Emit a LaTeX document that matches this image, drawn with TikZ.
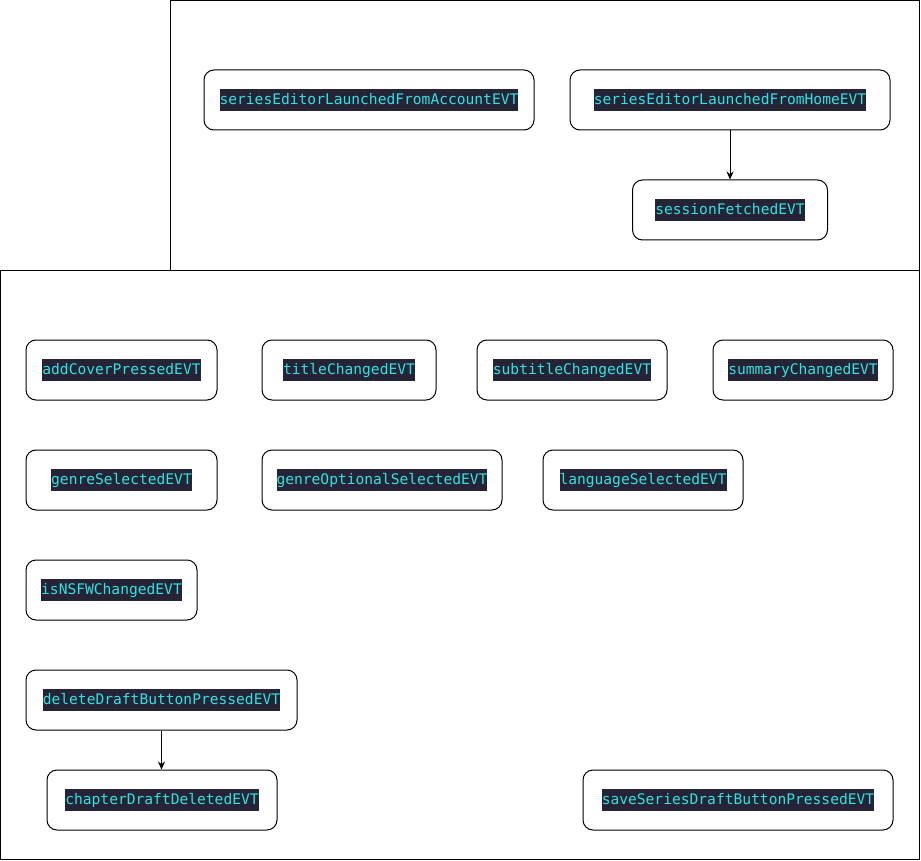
\documentclass[tikz,border=0pt]{standalone}
\usepackage{fontspec}
\setmonofont{DejaVu Sans Mono}
\usetikzlibrary{arrows.meta}
\definecolor{codebg}{RGB}{36,36,54}
\definecolor{codefg}{RGB}{48,226,226}
\newcommand{\evtlabel}[1]{{\setlength{\fboxsep}{0pt}\colorbox{codebg}{\rule[-6.5pt]{0pt}{22pt}\textcolor{codefg}{#1}}}}
\tikzset{
  evt/.style={draw, rounded corners=10pt, minimum height=60pt, inner sep=0pt,
    font=\ttfamily\fontsize{14.6}{17}\selectfont},
  group/.style={draw, line width=1pt}
}
\begin{document}
\begin{tikzpicture}[x=1pt, y=-1pt, line width=1pt]
\useasboundingbox (0,0) rectangle (921,861);
\draw[group] (170.5, 0.5) rectangle (919.5, 270);
\draw[group] (0.5, 270) rectangle (919.5, 859.5);
\node[evt, minimum width=330pt] (acct) at (369, 100) {\evtlabel{seriesEditorLaunchedFromAccountEVT}};
\node[evt, minimum width=320pt] (home) at (730, 100) {\evtlabel{seriesEditorLaunchedFromHomeEVT}};
\node[evt, minimum width=195pt] (session) at (730, 210) {\evtlabel{sessionFetchedEVT}};
\node[evt, minimum width=191pt] (cover) at (121.5, 370) {\evtlabel{addCoverPressedEVT}};
\node[evt, minimum width=174pt] (title) at (349, 370) {\evtlabel{titleChangedEVT}};
\node[evt, minimum width=190pt] (subtitle) at (572, 370) {\evtlabel{subtitleChangedEVT}};
\node[evt, minimum width=180pt] (summary) at (803, 370) {\evtlabel{summaryChangedEVT}};
\node[evt, minimum width=191pt] (genre) at (121.5, 480) {\evtlabel{genreSelectedEVT}};
\node[evt, minimum width=240pt] (genreopt) at (382, 480) {\evtlabel{genreOptionalSelectedEVT}};
\node[evt, minimum width=200pt] (language) at (643, 480) {\evtlabel{languageSelectedEVT}};
\node[evt, minimum width=171pt] (nsfw) at (111.5, 590) {\evtlabel{isNSFWChangedEVT}};
\node[evt, minimum width=271pt] (deldraft) at (161.5, 700) {\evtlabel{deleteDraftButtonPressedEVT}};
\node[evt, minimum width=230pt] (chapter) at (162, 800) {\evtlabel{chapterDraftDeletedEVT}};
\node[evt, minimum width=310pt] (save) at (738, 800) {\evtlabel{saveSeriesDraftButtonPressedEVT}};
\draw[-{Stealth[length=8pt, width=7pt]}] (home) -- (session);
\draw[-{Stealth[length=8pt, width=7pt]}] (deldraft.south) -- (deldraft.south |- chapter.north);
\end{tikzpicture}
\end{document}
